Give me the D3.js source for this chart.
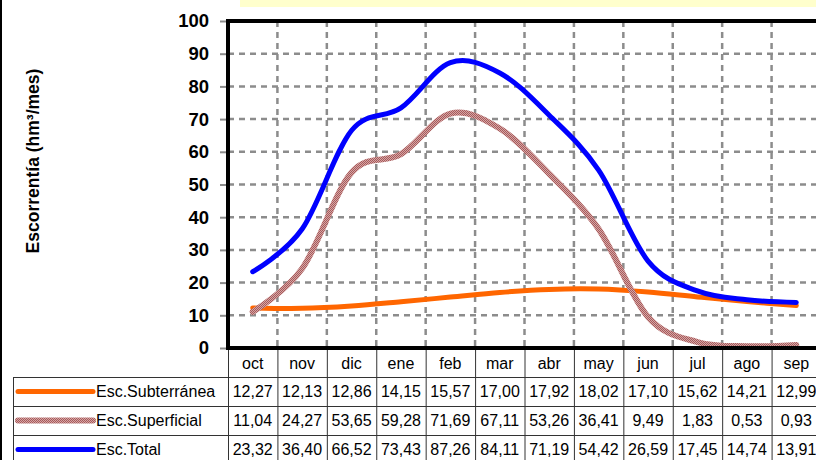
<!DOCTYPE html>
<html>
<head>
<meta charset="utf-8">
<script src="https://cdn.jsdelivr.net/npm/d3@7"></script>
<style>
  html, body { margin: 0; padding: 0; background: #fff; }
  svg { display: block; font-family: "Liberation Sans", Arial, sans-serif; }
</style>
</head>
<body>
<svg id="chart" width="816" height="460"></svg>
<script>
// ---- data ----
const months = ["oct","nov","dic","ene","feb","mar","abr","may","jun","jul","ago","sep"];
const subterranea = [12.27,12.13,12.86,14.15,15.57,17.00,17.92,18.02,17.10,15.62,14.21,12.99];
const superficial = [11.04,24.27,53.65,59.28,71.69,67.11,53.26,36.41,9.49,1.83,0.53,0.93];
const total = [23.32,36.40,66.52,73.43,87.26,84.11,71.19,54.42,26.59,17.45,14.74,13.91];
const seriesNames = ["Esc.Subterránea","Esc.Superficial","Esc.Total"];
const yTicks = [0,10,20,30,40,50,60,70,80,90,100];
const yTitle = "Escorrentía (hm³/mes)";

const seriesList = [
  { name: seriesNames[0], values: subterranea, color: "#FF6600", width: 5 },
  { name: seriesNames[1], values: superficial, color: "url(#hatch)", width: 6 },
  { name: seriesNames[2], values: total, color: "#0000FF", width: 5 }
];

const svg = d3.select("#chart");
const fmt = d3.formatLocale({decimal: ",", thousands: ".", grouping: [3], currency: ["", "€"]}).format(".2f");

// pattern for superficial line
const defs = svg.append("defs");
const pat = defs.append("pattern").attr("id", "hatch").attr("width", 2).attr("height", 2)
  .attr("patternUnits", "userSpaceOnUse");
pat.append("rect").attr("width", 2).attr("height", 2).attr("fill", "#D4A6A6");
pat.append("rect").attr("x", 0).attr("y", 0).attr("width", 1).attr("height", 1).attr("fill", "#A85A5A");
pat.append("rect").attr("x", 1).attr("y", 1).attr("width", 1).attr("height", 1).attr("fill", "#A85A5A");

// scales
const x = d3.scaleBand().domain(months).range([228, 821]).paddingInner(0).paddingOuter(0);
const y = d3.scaleLinear().domain([0, 100]).range([348, 21]);
const cx = m => x(m) + x.bandwidth() / 2;

// left page border & top yellow box
svg.append("rect").attr("x", 0).attr("y", 0).attr("width", 2).attr("height", 460).attr("fill", "#000");
svg.append("rect").attr("x", 240).attr("y", 0).attr("width", 576).attr("height", 7).attr("fill", "#FFFFCC");

// gridlines
const grid = svg.append("g").attr("stroke", "#8C8C8C").attr("stroke-width", 2.5).attr("stroke-dasharray", "6,5");
grid.selectAll("line.h").data(yTicks.filter(t => t > 0 && t < 100)).enter().append("line")
  .attr("x1", 228).attr("x2", 821).attr("y1", d => y(d)).attr("y2", d => y(d));
grid.selectAll("line.v").data(months.slice(1)).enter().append("line")
  .attr("x1", d => x(d)).attr("x2", d => x(d)).attr("y1", 21).attr("y2", 348);

// y axis
const yAxis = d3.axisLeft(y).tickValues(yTicks).tickSize(8).tickPadding(11);
const ga = svg.append("g").attr("transform", "translate(228,0)").call(yAxis);
ga.select(".domain").remove();
ga.selectAll(".tick line").attr("stroke", "#8C8C8C").attr("stroke-width", 2);
ga.selectAll(".tick text").attr("font-size", 18.5).attr("font-weight", "bold")
  .attr("fill", "#000").attr("font-family", "'Liberation Sans', Arial, sans-serif");

// y title
svg.append("text").attr("transform", "translate(39,161) rotate(-90)")
  .attr("text-anchor", "middle").attr("font-size", 17.5).attr("font-weight", "bold").text(yTitle);

// table
const rowY = d3.scaleBand().domain(seriesNames).range([377, 464]);
const tbl = svg.append("g").attr("stroke", "#333").attr("stroke-width", 1);
tbl.selectAll("line.cv").data(months).enter().append("line")
  .attr("x1", d => x(d) + 0.5).attr("x2", d => x(d) + 0.5).attr("y1", 350).attr("y2", 464);
tbl.append("line").attr("x1", 13.5).attr("x2", 13.5).attr("y1", 377).attr("y2", 464);
tbl.selectAll("line.rh").data(seriesNames).enter().append("line")
  .attr("x1", 13).attr("x2", 821).attr("y1", d => rowY(d) + 0.5).attr("y2", d => rowY(d) + 0.5);

// header labels
svg.append("g").selectAll("text").data(months).enter().append("text")
  .attr("x", d => cx(d)).attr("y", 363).attr("dy", "0.35em").attr("text-anchor", "middle")
  .attr("font-size", 16).text(d => d);

// rows
seriesList.forEach(s => {
  const ry = rowY(s.name) + rowY.bandwidth() / 2;
  svg.append("line").attr("x1", 18).attr("x2", 93).attr("y1", ry).attr("y2", ry)
    .attr("stroke", s.color).attr("stroke-width", s.width).attr("stroke-linecap", "round");
  svg.append("text").attr("x", 96).attr("y", ry).attr("dy", "0.35em").attr("font-size", 16).text(s.name);
  svg.append("g").selectAll("text").data(s.values).enter().append("text")
    .attr("x", (d, i) => cx(months[i])).attr("y", ry).attr("dy", "0.35em")
    .attr("text-anchor", "middle").attr("font-size", 16).text(d => fmt(d));
});

// series lines
const line = d3.line().curve(d3.curveCatmullRom.alpha(0))
  .x((d, i) => cx(months[i])).y(d => y(d));
seriesList.forEach(s => {
  svg.append("path").datum(s.values).attr("d", line).attr("fill", "none")
    .attr("stroke", s.color).attr("stroke-width", s.width)
    .attr("stroke-linecap", "round").attr("stroke-linejoin", "round");
});

// plot frame (top, left, bottom)
const frame = svg.append("g").attr("stroke", "#000").attr("stroke-width", 4);
frame.append("line").attr("x1", 226).attr("x2", 821).attr("y1", y(100)).attr("y2", y(100));
frame.append("line").attr("x1", 226).attr("x2", 821).attr("y1", y(0)).attr("y2", y(0));
frame.append("line").attr("x1", 228).attr("x2", 228).attr("y1", y(100) - 2).attr("y2", y(0) + 2);
</script>
</body>
</html>
